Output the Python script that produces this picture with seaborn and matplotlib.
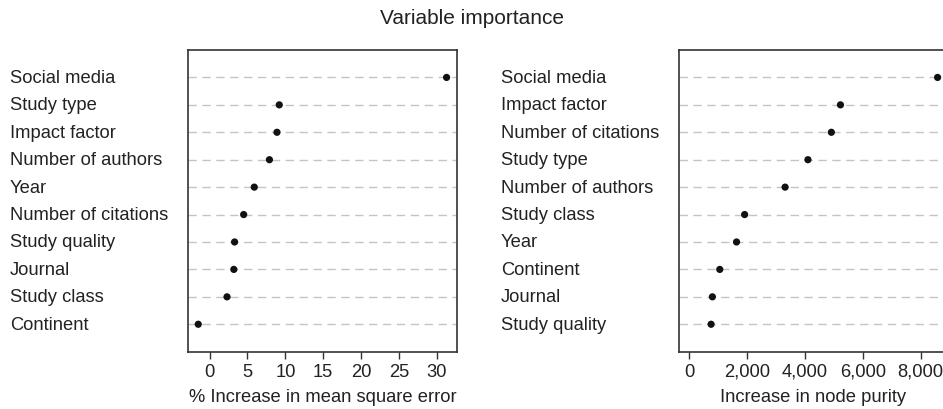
import numpy as np
import pandas as pd
import matplotlib
matplotlib.use("Agg")
import matplotlib.pyplot as plt
import matplotlib.transforms as mtransforms
from matplotlib.ticker import FuncFormatter
import seaborn as sns

# данные (сверху вниз)
mse_labels = ["Social media", "Study type", "Impact factor", "Number of authors", "Year",
              "Number of citations", "Study quality", "Journal", "Study class", "Continent"]
mse_values = [31.3, 9.2, 8.9, 7.9, 5.9, 4.5, 3.3, 3.2, 2.3, -1.5]

purity_labels = ["Social media", "Impact factor", "Number of citations", "Study type",
                 "Number of authors", "Study class", "Year", "Continent", "Journal", "Study quality"]
purity_values = [8590, 5230, 4915, 4105, 3315, 1915, 1635, 1055, 800, 755]

mse_ticks = [0, 5, 10, 15, 20, 25, 30]
purity_ticks = [0, 2000, 4000, 6000, 8000]

sns.set_theme(style="white")
plt.rcParams['font.family'] = ['Liberation Sans', 'DejaVu Sans']

FS = 13.2

fig = plt.figure(figsize=(9.43, 4.10), dpi=100)
ax1 = fig.add_axes([0.1997, 0.1398, 0.2844, 0.7358])
ax2 = fig.add_axes([0.7204, 0.1398, 0.2844, 0.7358])


def dotchart(ax, labels, values, xmin, ticks, xlabel, label_x, fmt=None):
    n = len(labels)
    df = pd.DataFrame({"label": labels, "value": values, "pos": np.arange(n, 0, -1)})
    lo = xmin
    hi = max(values)
    pad = (hi - lo) * 0.04
    ax.set_xlim(lo - pad, hi + pad)
    ax.set_ylim(0, n + 1)
    for p in df["pos"]:
        ax.axhline(p, color="#c4c4c4", lw=1.0, ls=(0, (6, 4)), zorder=1)
    sns.scatterplot(data=df, x="value", y="pos", ax=ax, color="#111111", s=27,
                    edgecolor="none", zorder=3, legend=False)
    trans = mtransforms.blended_transform_factory(fig.transFigure, ax.transData)
    for lab, p in zip(df["label"], df["pos"]):
        fig.text(label_x, p, lab, transform=trans, ha="left", va="center",
                 fontsize=FS, color="#222222")
    ax.set_yticks([])
    ax.set_ylabel("")
    ax.set_xticks(ticks)
    if fmt is not None:
        ax.xaxis.set_major_formatter(FuncFormatter(fmt))
    ax.set_xlabel(xlabel, fontsize=FS, color="#222222", labelpad=6)
    ax.tick_params(axis="x", direction="out", length=5, width=1, color="#333333",
                   labelsize=FS, labelcolor="#222222", pad=3, bottom=True)
    for sp in ax.spines.values():
        sp.set_color("#333333")
        sp.set_linewidth(1.2)


dotchart(ax1, mse_labels, mse_values, min(mse_values), mse_ticks,
         "% Increase in mean square error", 10 / 943)
dotchart(ax2, purity_labels, purity_values, 0, purity_ticks,
         "Increase in node purity", 501 / 943, fmt=lambda v, p: f"{v:,.0f}")

fig.text(0.5, 1 - 18 / 410, "Variable importance", ha="center", va="center",
         fontsize=15, color="#222222")

fig.savefig("out.png", dpi=100)
